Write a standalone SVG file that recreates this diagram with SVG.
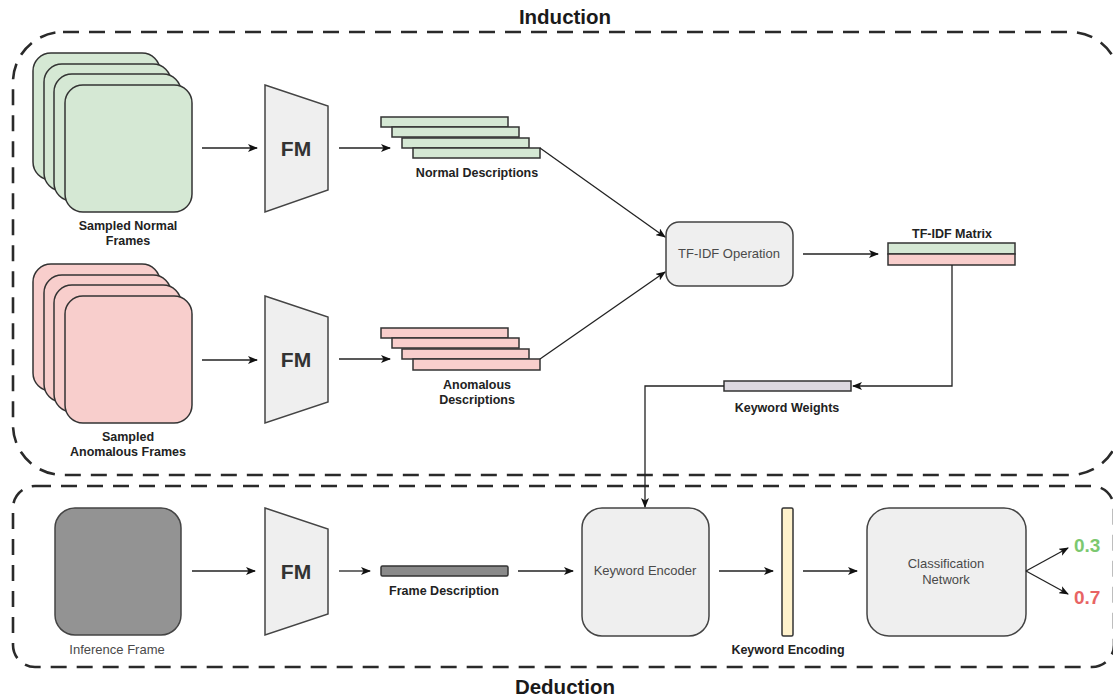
<svg xmlns="http://www.w3.org/2000/svg" width="1113" height="700" viewBox="0 0 1113 700">
<style>
.bg{fill:#ffffff}
.region{fill:none;stroke:#2a2a2a;stroke-width:2.6;stroke-dasharray:16 10}
.title{font-family:"Liberation Sans",Arial,sans-serif;font-size:20.5px;font-weight:bold;fill:#1a1a1a;text-anchor:middle}
.lbl{font-family:"Liberation Sans",Arial,sans-serif;font-size:12.5px;font-weight:bold;fill:#222;text-anchor:middle}
.in{font-family:"Liberation Sans",Arial,sans-serif;font-size:13px;fill:#4a4a4a;text-anchor:middle}
.fm{font-family:"Liberation Sans",Arial,sans-serif;font-size:21px;font-weight:bold;fill:#333;text-anchor:middle}
.green{fill:#d5e8d4;stroke:#333;stroke-width:1.5}
.red{fill:#f8cecc;stroke:#333;stroke-width:1.5}
.gray{fill:#efefef;stroke:#444;stroke-width:1.5}
.conn{fill:none;stroke:#222;stroke-width:1.3}
.score{font-family:"Liberation Sans",Arial,sans-serif;font-size:19px;font-weight:bold}
</style>
<defs>
<marker id="ah" markerWidth="10" markerHeight="8" refX="9" refY="4" orient="auto" markerUnits="userSpaceOnUse">
<path d="M0,0 L10,4 L0,8 L2.5,4 Z" fill="#111"/>
</marker>
</defs>
<rect class="bg" x="0" y="0" width="1113" height="700"/>

<g id="induction-region">
<rect class="region" x="13" y="32" width="1107" height="443" rx="50" ry="50"/>
<text class="title" x="565" y="24">Induction</text>
</g>
<g id="deduction-region">
<rect class="region" x="13" y="486" width="1101" height="181" rx="22" ry="22"/>
<text class="title" x="565" y="694">Deduction</text>
</g>

<g id="normal-frames">
<rect class="green" x="33" y="53" width="127" height="127" rx="18"/>
<rect class="green" x="44" y="64" width="127" height="127" rx="18"/>
<rect class="green" x="54" y="74" width="127" height="127" rx="18"/>
<rect class="green" x="65" y="85" width="127" height="127" rx="18"/>
<text class="lbl" x="128" y="230">Sampled Normal</text>
<text class="lbl" x="128" y="245">Frames</text>
</g>

<g id="anomalous-frames">
<rect class="red" x="33" y="264" width="127" height="127" rx="18"/>
<rect class="red" x="44" y="275" width="127" height="127" rx="18"/>
<rect class="red" x="54" y="285" width="127" height="127" rx="18"/>
<rect class="red" x="65" y="296" width="127" height="127" rx="18"/>
<text class="lbl" x="128" y="441">Sampled</text>
<text class="lbl" x="128" y="456">Anomalous Frames</text>
</g>

<g id="fm1">
<polygon class="gray" points="265,85 328,106 328,190 265,212"/>
<text class="fm" x="296" y="156">FM</text>
</g>
<g id="fm2">
<polygon class="gray" points="265,296 328,317 328,402 265,423"/>
<text class="fm" x="296" y="367">FM</text>
</g>

<g id="normal-descriptions">
<rect class="green" x="381" y="117" width="127" height="10"/>
<rect class="green" x="392" y="127" width="127" height="10"/>
<rect class="green" x="402" y="138" width="127" height="10"/>
<rect class="green" x="413" y="148" width="127" height="10"/>
<text class="lbl" x="477" y="177">Normal Descriptions</text>
</g>

<g id="anomalous-descriptions">
<rect class="red" x="381" y="328" width="127" height="10"/>
<rect class="red" x="392" y="338" width="127" height="10"/>
<rect class="red" x="402" y="349" width="127" height="10"/>
<rect class="red" x="413" y="359" width="127" height="11"/>
<text class="lbl" x="477" y="389">Anomalous</text>
<text class="lbl" x="477" y="404">Descriptions</text>
</g>

<g id="tfidf-operation">
<rect class="gray" x="666" y="222" width="127" height="64" rx="13"/>
<text class="in" x="729" y="258">TF-IDF Operation</text>
</g>

<g id="tfidf-matrix">
<text class="lbl" x="952" y="238">TF-IDF Matrix</text>
<rect class="green" x="888" y="243" width="127" height="11"/>
<rect class="red" x="888" y="254" width="127" height="11"/>
</g>

<g id="keyword-weights">
<rect fill="#dcd8e0" stroke="#333" stroke-width="1.5" x="724" y="381" width="127" height="10"/>
<text class="lbl" x="787" y="412">Keyword Weights</text>
</g>

<g id="inference-frame">
<rect fill="#939393" stroke="#444" stroke-width="1.5" x="55" y="508" width="126" height="127" rx="20"/>
<text class="in" x="117" y="654">Inference Frame</text>
</g>

<g id="fm3">
<polygon class="gray" points="265,508 328,529 328,614 265,635"/>
<text class="fm" x="296" y="579">FM</text>
</g>

<g id="frame-description">
<rect fill="#8a8a8a" stroke="#333" stroke-width="1.5" x="381" y="566" width="127" height="10" rx="1.5"/>
<text class="lbl" x="444" y="595">Frame Description</text>
</g>

<g id="keyword-encoder">
<rect class="gray" x="582" y="508" width="127" height="128" rx="20"/>
<text class="in" x="645" y="575">Keyword Encoder</text>
</g>

<g id="keyword-encoding">
<rect fill="#fff2cc" stroke="#333" stroke-width="1.5" x="782" y="508" width="11" height="128" rx="1.5"/>
<text class="lbl" x="788" y="654">Keyword Encoding</text>
</g>

<g id="classification-network">
<rect class="gray" x="867" y="508" width="159" height="128" rx="22"/>
<text class="in" x="946" y="568">Classification</text>
<text class="in" x="946" y="584">Network</text>
</g>

<g id="scores">
<text class="score" x="1074" y="552" fill="#7cc870">0.3</text>
<text class="score" x="1074" y="604" fill="#e86464">0.7</text>
</g>

<g id="connectors">
<line class="conn" x1="202" y1="148" x2="257" y2="148" marker-end="url(#ah)"/>
<line class="conn" x1="202" y1="360" x2="257" y2="360" marker-end="url(#ah)"/>
<line class="conn" x1="339" y1="148" x2="390" y2="148" marker-end="url(#ah)"/>
<line class="conn" x1="339" y1="359" x2="390" y2="359" marker-end="url(#ah)"/>
<line class="conn" x1="540" y1="148" x2="665" y2="237" marker-end="url(#ah)"/>
<line class="conn" x1="540" y1="359" x2="665" y2="272" marker-end="url(#ah)"/>
<line class="conn" x1="803" y1="254" x2="878" y2="254" marker-end="url(#ah)"/>
<polyline class="conn" points="952,265 952,386 853,386" marker-end="url(#ah)"/>
<polyline class="conn" points="724,386 645,386 645,507" marker-end="url(#ah)"/>
<line class="conn" x1="192" y1="571" x2="255" y2="571" marker-end="url(#ah)"/>
<line class="conn" x1="339" y1="571" x2="370" y2="571" marker-end="url(#ah)"/>
<line class="conn" x1="518" y1="571" x2="573" y2="571" marker-end="url(#ah)"/>
<line class="conn" x1="719" y1="571" x2="773" y2="571" marker-end="url(#ah)"/>
<line class="conn" x1="803" y1="571" x2="857" y2="571" marker-end="url(#ah)"/>
<line class="conn" x1="1026" y1="571" x2="1068" y2="548" marker-end="url(#ah)"/>
<line class="conn" x1="1026" y1="571" x2="1068" y2="594" marker-end="url(#ah)"/>
</g>
</svg>
